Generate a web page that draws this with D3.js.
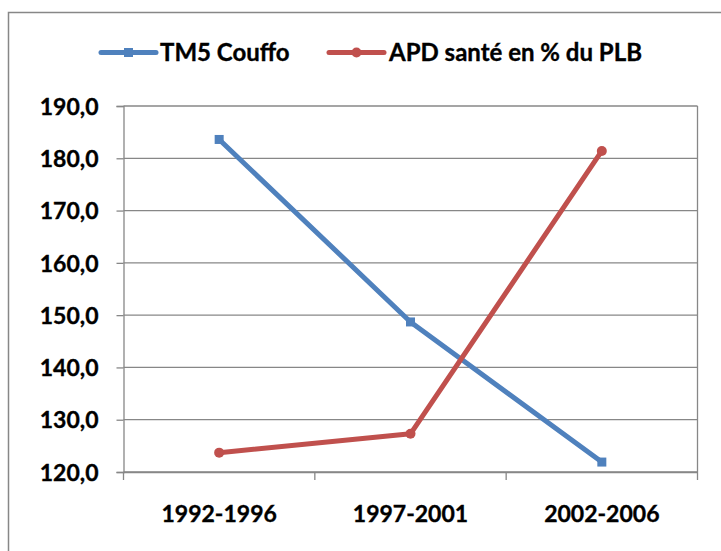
<!DOCTYPE html>
<html>
<head>
<meta charset="utf-8">
<script src="https://cdn.jsdelivr.net/npm/d3@7"></script>
<style>
  html, body { margin: 0; padding: 0; background: #fff; }
  svg { display: block; }
  text { font-family: Lato, "Open Sans", sans-serif; font-weight: bold; fill: #000; stroke: #000; stroke-width: 0.35px; }
</style>
</head>
<body>
<svg id="chart" width="721" height="551"></svg>
<script>
// Periods on the horizontal axis
const periods = ["1992-1996", "1997-2001", "2002-2006"];
// Series values
const tm5Couffo = [183.6, 148.7, 121.9];
const apdSante = [123.7, 127.3, 181.4];
// Vertical axis ticks
const yTicks = [120, 130, 140, 150, 160, 170, 180, 190];

const series = [
  { name: "TM5 Couffo", values: tm5Couffo, color: "#4F81BD", marker: "square" },
  { name: "APD santé en % du PLB", values: apdSante, color: "#C0504D", marker: "circle" }
];

const plot = { left: 123.5, right: 697.5, top: 106, bottom: 472 };
const grid = "#878787";
const fontSize = 23;

const svg = d3.select("#chart");

// chart frame
svg.append("rect")
  .attr("x", 8.5).attr("y", 12.5)
  .attr("width", 900).attr("height", 900)
  .attr("fill", "#fff").attr("stroke", grid).attr("stroke-width", 1.5);

const x = d3.scaleBand().domain(periods).range([plot.left, plot.right]);
const y = d3.scaleLinear().domain([120, 190]).range([plot.bottom, plot.top]);
const fmt = v => d3.format(".1f")(v).replace(".", ",");

// horizontal gridlines
svg.append("g")
  .selectAll("line").data(yTicks).join("line")
  .attr("x1", plot.left).attr("x2", plot.right)
  .attr("y1", d => y(d)).attr("y2", d => y(d))
  .attr("stroke", grid).attr("stroke-width", 1.3);

// right edge of plot area
svg.append("line")
  .attr("x1", plot.right).attr("x2", plot.right)
  .attr("y1", plot.top).attr("y2", plot.bottom)
  .attr("stroke", grid).attr("stroke-width", 1.3);

// value axis
const yAxis = svg.append("g")
  .attr("transform", `translate(${plot.left},0)`)
  .call(d3.axisLeft(y).tickValues(yTicks).tickFormat(fmt).tickSize(7).tickPadding(18));
yAxis.select(".domain").attr("stroke", grid).attr("stroke-width", 1.3);
yAxis.selectAll(".tick line").attr("stroke", grid).attr("stroke-width", 1.3);
yAxis.selectAll(".tick text")
  .attr("font-size", fontSize).attr("font-family", "Lato").attr("font-weight", "bold")
  .attr("fill", "#000").attr("dy", "0.36em");

// category axis
const xAxis = svg.append("g")
  .attr("transform", `translate(0,${plot.bottom})`)
  .call(d3.axisBottom(x).tickSize(0).tickPadding(34));
xAxis.select(".domain").attr("stroke", grid).attr("stroke-width", 1.3);
xAxis.selectAll(".tick text")
  .attr("font-size", fontSize).attr("font-family", "Lato").attr("font-weight", "bold")
  .attr("fill", "#000");
// tick marks at category boundaries
const bounds = periods.map(p => x(p)).concat([x(periods[periods.length - 1]) + x.bandwidth()]);
xAxis.append("g").selectAll("line").data(bounds).join("line")
  .attr("x1", d => d).attr("x2", d => d)
  .attr("y1", 0).attr("y2", 8)
  .attr("stroke", grid).attr("stroke-width", 1.3);

const cx = p => x(p) + x.bandwidth() / 2;
const line = d3.line().x((d, i) => cx(periods[i])).y(d => y(d));

function drawMarker(g, kind, color, size) {
  if (kind === "square") {
    g.append("rect").attr("x", -size / 2).attr("y", -size / 2)
      .attr("width", size).attr("height", size).attr("fill", color);
  } else {
    g.append("circle").attr("r", size / 2).attr("fill", color);
  }
}

series.forEach(s => {
  svg.append("path")
    .datum(s.values)
    .attr("d", line)
    .attr("fill", "none")
    .attr("stroke", s.color)
    .attr("stroke-width", 5)
    .attr("stroke-linejoin", "round");
  s.values.forEach((v, i) => {
    const g = svg.append("g").attr("transform", `translate(${cx(periods[i])},${y(v)})`);
    drawMarker(g, s.marker, s.color, s.marker === "square" ? 9 : 10);
  });
});

// legend
const legendItems = [
  { x0: 101, x1: 156, tx: 160 },
  { x0: 329, x1: 384, tx: 389 }
];
const legendY = 52.5;
series.forEach((s, i) => {
  const L = legendItems[i];
  const g = svg.append("g");
  g.append("line")
    .attr("x1", L.x0).attr("x2", L.x1)
    .attr("y1", legendY).attr("y2", legendY)
    .attr("stroke", s.color).attr("stroke-width", 5).attr("stroke-linecap", "round");
  const mg = g.append("g").attr("transform", `translate(${(L.x0 + L.x1) / 2},${legendY})`);
  drawMarker(mg, s.marker, s.color, s.marker === "square" ? 9 : 10);
  g.append("text")
    .attr("x", L.tx).attr("y", legendY).attr("dy", "0.36em")
    .attr("font-size", 24)
    .text(s.name);
});
</script>
</body>
</html>
